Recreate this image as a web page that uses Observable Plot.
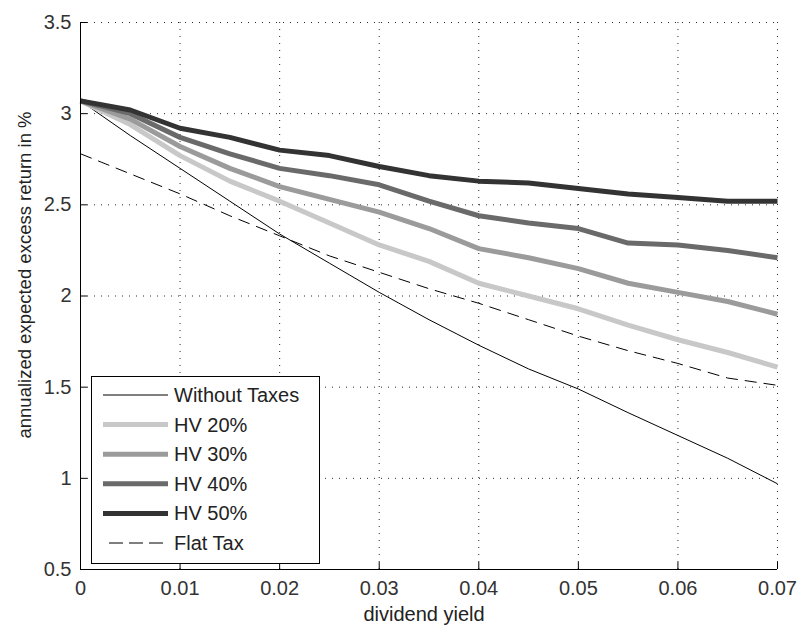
<!DOCTYPE html>
<html>
<head>
<meta charset="utf-8">
<script src="https://cdn.jsdelivr.net/npm/d3@7"></script>
<script src="https://cdn.jsdelivr.net/npm/@observablehq/plot@0.6"></script>
<style>
  html, body { margin: 0; padding: 0; background: #fff; }
  #chart svg { display: block; }
</style>
</head>
<body>
<div id="chart"></div>
<script>
// ---- data ----
const dividendYield = [0, 0.005, 0.01, 0.015, 0.02, 0.025, 0.03, 0.035, 0.04, 0.045, 0.05, 0.055, 0.06, 0.065, 0.07];
const withoutTaxes = [3.07, 2.88, 2.70, 2.52, 2.34, 2.18, 2.02, 1.87, 1.73, 1.60, 1.49, 1.36, 1.235, 1.11, 0.97];
const hv20 = [3.07, 2.94, 2.77, 2.63, 2.52, 2.40, 2.28, 2.19, 2.07, 2.00, 1.93, 1.84, 1.76, 1.69, 1.61];
const hv30 = [3.07, 2.97, 2.82, 2.70, 2.60, 2.53, 2.46, 2.37, 2.26, 2.21, 2.15, 2.07, 2.02, 1.97, 1.90];
const hv40 = [3.07, 3.00, 2.87, 2.78, 2.70, 2.66, 2.61, 2.52, 2.44, 2.40, 2.37, 2.29, 2.28, 2.25, 2.21];
const hv50 = [3.07, 3.02, 2.92, 2.87, 2.80, 2.77, 2.71, 2.66, 2.63, 2.62, 2.59, 2.56, 2.54, 2.52, 2.52];
const flatTax = [2.78, 2.67, 2.56, 2.44, 2.33, 2.22, 2.13, 2.04, 1.96, 1.87, 1.78, 1.70, 1.63, 1.55, 1.51];

const seriesNames = ["Without Taxes", "HV 20%", "HV 30%", "HV 40%", "HV 50%", "Flat Tax"];
const seriesValues = [withoutTaxes, hv20, hv30, hv40, hv50, flatTax];
const seriesColors = ["#000000", "#c8c8c8", "#9b9b9b", "#6a6a6a", "#333333", "#000000"];
const seriesWidths = [1, 5, 5, 5, 5, 1];
const seriesDash = [null, null, null, null, null, "12,7"];

const xTicks = [0, 0.01, 0.02, 0.03, 0.04, 0.05, 0.06, 0.07];
const xTickLabels = ["0", "0.01", "0.02", "0.03", "0.04", "0.05", "0.06", "0.07"];
const yTicks = [0.5, 1, 1.5, 2, 2.5, 3, 3.5];
const yTickLabels = ["0.5", "1", "1.5", "2", "2.5", "3", "3.5"];
const xLabel = "dividend yield";
const yLabel = "annualized expected excess return in %";

// ---- build ----
const FONT = "'Liberation Sans', Arial, Helvetica, sans-serif";
const FS = 20;

const lineMarks = seriesNames.map((name, i) =>
  Plot.line(dividendYield.map((x, j) => ({x, y: seriesValues[i][j]})), {
    x: "x", y: "y",
    stroke: seriesColors[i],
    strokeWidth: seriesWidths[i],
    strokeDasharray: seriesDash[i] ?? undefined,
    strokeLinejoin: "round",
    strokeLinecap: "butt"
  })
);

const chart = Plot.plot({
  width: 797,
  height: 626,
  marginLeft: 80,
  marginRight: 20,
  marginTop: 22,
  marginBottom: 57,
  style: {fontFamily: FONT, fontSize: FS + "px", background: "#fff", color: "#222"},
  x: {domain: [0, 0.07], axis: null},
  y: {domain: [0.5, 3.5], axis: null},
  marks: [
    // dotted grid
    Plot.ruleX(xTicks.filter(d => d > 0), {stroke: "#000", strokeWidth: 1, strokeDasharray: "1,6", strokeOpacity: 0.85}),
    Plot.ruleY(yTicks.filter(d => d > 0.5), {stroke: "#000", strokeWidth: 1, strokeDasharray: "1,6", strokeOpacity: 0.85}),
    // data lines
    ...lineMarks,
    // axes lines
    Plot.ruleX([0], {stroke: "#000", strokeWidth: 1}),
    Plot.ruleY([0.5], {stroke: "#000", strokeWidth: 1}),
    // inward ticks
    Plot.ruleX(xTicks, {y1: 0.5, y2: 0.5 + 0.038, stroke: "#000"}),
    Plot.ruleY(yTicks, {x1: 0, x2: 0.0007, stroke: "#000"}),
    // tick labels
    Plot.axisX(xTicks, {tickSize: 0, tickPadding: 11, tickFormat: (d, i) => xTickLabels[i], label: null, fontSize: FS, fill: "#333"}),
    Plot.axisY(yTicks, {tickSize: 0, tickPadding: 9, tickFormat: (d, i) => yTickLabels[i], label: null, fontSize: FS, fill: "#333"}),
    // axis titles
    Plot.text([xLabel], {frameAnchor: "bottom", dy: 51, fontSize: FS, fill: "#222", textAnchor: "middle", dx: -5}),
    Plot.text([yLabel], {frameAnchor: "left", rotate: -90, dx: -55, dy: -21, fontSize: 18.5, fill: "#222", textAnchor: "middle"})
  ]
});

document.getElementById("chart").appendChild(chart);

// ---- legend (inside the axes, lower left) ----
const svg = d3.select(chart);
const lg = svg.append("g").attr("class", "legend").attr("text-anchor", "start");
const L = {x: 91, y: 376, w: 228, h: 187, row0: 395, step: 29.6, lx1: 103, lx2: 168, tx: 174};
lg.append("rect")
  .attr("x", L.x + 0.5).attr("y", L.y + 0.5)
  .attr("width", L.w).attr("height", L.h)
  .attr("fill", "#fff").attr("stroke", "#000").attr("stroke-width", 1);
seriesNames.forEach((name, i) => {
  const cy = L.row0 + i * L.step;
  const ln = lg.append("line")
    .attr("x1", seriesDash[i] ? L.lx1 + 6 : L.lx1).attr("x2", L.lx2)
    .attr("y1", cy).attr("y2", cy)
    .attr("stroke", seriesColors[i])
    .attr("stroke-width", seriesWidths[i]);
  if (seriesDash[i]) ln.attr("stroke-dasharray", "14,6");
  lg.append("text")
    .attr("x", L.tx).attr("y", cy).attr("dy", "0.35em")
    .attr("text-anchor", "start")
    .attr("font-family", FONT).attr("font-size", FS)
    .attr("fill", "#222")
    .text(name);
});
</script>
</body>
</html>
